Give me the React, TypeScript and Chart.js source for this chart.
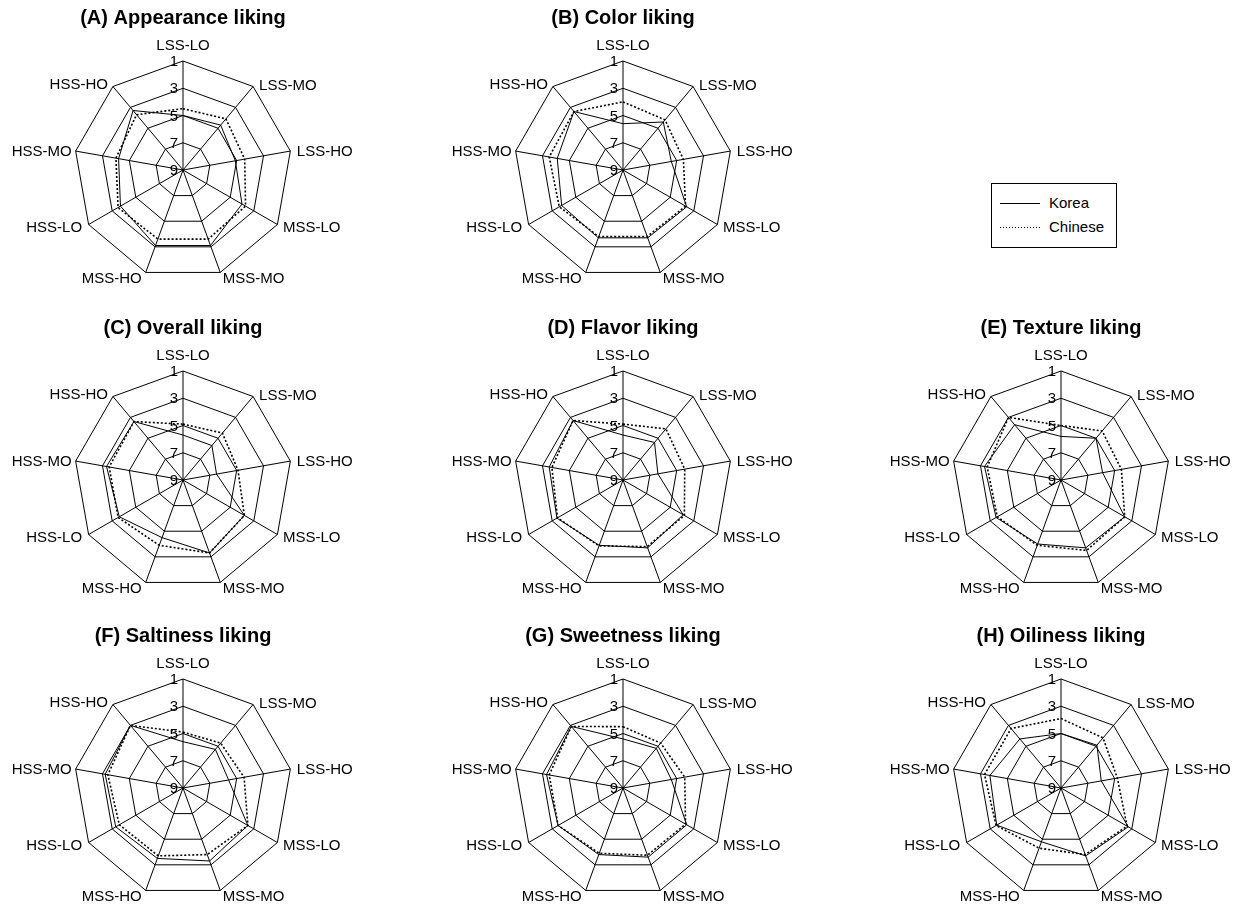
import React, { useEffect, useRef } from "react";
import { Chart, registerables } from "chart.js";

Chart.register(...registerables);

// Sample codes on the radar axes, clockwise from the top
const attributes = ["LSS-LO", "LSS-MO", "LSS-HO", "MSS-LO", "MSS-MO", "MSS-HO", "HSS-LO", "HSS-MO", "HSS-HO"];
const scaleTicks = [1, 3, 5, 7, 9];
const seriesNames = ["Korea", "Chinese"];

// Mean liking scores (1 = most liked, drawn at the rim; 9 at the centre)
const appearanceKorea = [5.0, 4.7, 5.1, 4.0, 3.1, 3.1, 3.7, 4.2, 3.3];
const appearanceChinese = [4.5, 4.1, 4.4, 3.7, 3.6, 3.6, 3.5, 4.0, 3.7];
const colorKorea = [5.6, 4.4, 5.4, 3.6, 3.7, 3.7, 3.8, 4.1, 3.4];
const colorChinese = [4.0, 4.2, 4.5, 3.7, 3.8, 3.8, 3.6, 3.5, 3.4];
const overallKorea = [5.7, 5.7, 6.5, 3.8, 3.3, 4.5, 3.6, 3.3, 3.4];
const overallChinese = [4.9, 4.5, 4.9, 3.8, 3.3, 3.9, 3.5, 3.5, 3.4];
const flavorKorea = [5.7, 5.4, 6.4, 3.9, 3.7, 3.9, 3.4, 3.5, 3.3];
const flavorChinese = [4.9, 4.1, 4.4, 3.8, 3.8, 3.85, 3.45, 3.7, 3.3];
const textureKorea = [5.8, 5.0, 5.9, 3.6, 3.7, 4.0, 3.5, 3.3, 3.7];
const textureChinese = [5.0, 4.3, 4.5, 3.6, 3.5, 3.9, 3.6, 3.5, 3.0];
const saltinessKorea = [5.6, 5.3, 5.6, 3.5, 3.3, 3.5, 3.3, 3.2, 3.0];
const saltinessChinese = [4.9, 4.7, 4.45, 3.5, 3.8, 3.7, 3.6, 3.4, 3.0];
const sweetnessKorea = [5.4, 5.2, 5.4, 3.6, 3.6, 3.8, 3.5, 3.3, 3.1];
const sweetnessChinese = [4.5, 4.7, 4.4, 3.7, 3.75, 3.9, 3.5, 3.5, 3.1];
const oilinessKorea = [5.0, 4.9, 6.0, 3.3, 3.7, 4.8, 3.55, 3.7, 4.3];
const oilinessChinese = [3.9, 4.2, 4.8, 3.4, 3.8, 4.3, 3.5, 3.3, 3.3];

const panelTitles = [
  "(A) Appearance liking",
  "(B) Color liking",
  "(C) Overall liking",
  "(D) Flavor liking",
  "(E) Texture liking",
  "(F) Saltiness liking",
  "(G) Sweetness liking",
  "(H) Oiliness liking",
];
const panelKorea = [appearanceKorea, colorKorea, overallKorea, flavorKorea, textureKorea, saltinessKorea, sweetnessKorea, oilinessKorea];
const panelChinese = [appearanceChinese, colorChinese, overallChinese, flavorChinese, textureChinese, saltinessChinese, sweetnessChinese, oilinessChinese];

// Grid cell (column, row) of each panel; the legend sits in column 2 of row 0
const panelCells = [[0, 0], [1, 0], [0, 1], [1, 1], [2, 1], [0, 2], [1, 2], [2, 2]];

const FONT = '"Liberation Sans", Arial, Helvetica, sans-serif';
const COL_X = [183, 623, 1061];
const ROW_Y = [170, 480, 788];
const CANVAS_W = 420;
const CANVAS_H = 282;
const CENTER_X = 210;
const CENTER_Y = 163;
const RADIUS = 109;

// Label nudges around each outer vertex: [dx, dy]
const labelNudge = [
  [0, -11], [6, -1], [6.5, 1], [5.5, 3.5], [2.5, 6], [-4, 6], [-6.5, 3.5], [-4, 1], [-5, -1.5],
];

const radarText = {
  id: "radarText",
  afterDraw(chart: any, _args: any, opts: any) {
    const scale = chart.scales.r;
    const ctx = chart.ctx as CanvasRenderingContext2D;
    ctx.save();
    ctx.fillStyle = "#000";

    ctx.font = `bold 20px ${FONT}`;
    ctx.textAlign = "center";
    ctx.textBaseline = "alphabetic";
    ctx.fillText(opts.title, scale.xCenter, scale.yCenter - 146);

    ctx.font = `15px ${FONT}`;
    ctx.textAlign = "right";
    ctx.textBaseline = "middle";
    scaleTicks.forEach((v) => {
      const d = scale.getDistanceFromCenterForValue(v);
      ctx.fillText(String(v), scale.xCenter - 5, scale.yCenter - d + 1);
    });

    attributes.forEach((label, i) => {
      const p = scale.getPointPosition(i, scale.drawingArea);
      const [dx, dy] = labelNudge[i];
      if (i === 0) {
        ctx.textAlign = "center";
        ctx.textBaseline = "alphabetic";
      } else {
        ctx.textAlign = i <= 4 ? "left" : "right";
        ctx.textBaseline = "middle";
      }
      ctx.fillText(label, p.x + dx, p.y + dy);
    });
    ctx.restore();
  },
};

function RadarPanel({ index }: { index: number }) {
  const ref = useRef<HTMLCanvasElement>(null);
  useEffect(() => {
    if (!ref.current) return;
    const chart = new Chart(ref.current, {
      type: "radar",
      data: {
        labels: attributes,
        datasets: [
          {
            label: seriesNames[0],
            data: panelKorea[index],
            borderColor: "#000",
            borderWidth: 1,
            fill: false,
            pointRadius: 0,
          },
          {
            label: seriesNames[1],
            data: panelChinese[index],
            borderColor: "#000",
            borderWidth: 1.6,
            borderDash: [2, 2],
            fill: false,
            pointRadius: 0,
          },
        ],
      },
      options: {
        animation: false,
        responsive: false,
        devicePixelRatio: 1,
        events: [],
        layout: {
          padding: {
            left: CENTER_X - RADIUS,
            right: CANVAS_W - CENTER_X - RADIUS,
            top: CENTER_Y - RADIUS,
            bottom: CANVAS_H - CENTER_Y - RADIUS,
          },
        },
        elements: { line: { tension: 0 } },
        plugins: {
          legend: { display: false },
          tooltip: { enabled: false },
          radarText: { title: panelTitles[index] },
        } as any,
        scales: {
          r: {
            min: 1,
            max: 9,
            reverse: true,
            ticks: { display: false, stepSize: 2, reverse: true } as any,
            grid: { color: "#000", lineWidth: 1 },
            angleLines: { color: "#000", lineWidth: 1 },
            pointLabels: { display: false },
          },
        },
      },
      plugins: [radarText],
    });
    return () => chart.destroy();
  }, [index]);

  const [c, r] = panelCells[index];
  return (
    <canvas
      ref={ref}
      width={CANVAS_W}
      height={CANVAS_H}
      style={{
        position: "absolute",
        left: COL_X[c] - CENTER_X - 8,
        top: ROW_Y[r] - CENTER_Y - 8,
        width: CANVAS_W,
        height: CANVAS_H,
      }}
    />
  );
}

function Legend() {
  const row = (name: string, dotted: boolean, y: number) => (
    <div key={name}>
      <div
        style={{
          position: "absolute",
          left: 8,
          top: y,
          width: 40,
          height: 1,
          background: dotted
            ? "repeating-linear-gradient(to right, #000 0px, #000 1px, transparent 1px, transparent 3px)"
            : "#000",
        }}
      />
      <div
        style={{
          position: "absolute",
          left: 57,
          top: y - 9,
          height: 18,
          lineHeight: "18px",
          fontFamily: FONT,
          fontSize: 15,
          color: "#000",
          whiteSpace: "nowrap",
        }}
      >
        {name}
      </div>
    </div>
  );
  return (
    <div
      style={{
        position: "absolute",
        left: 991 - 8,
        top: 183 - 8,
        width: 124,
        height: 63,
        border: "1px solid #000",
        background: "#fff",
      }}
    >
      {row(seriesNames[0], false, 19)}
      {row(seriesNames[1], true, 43)}
    </div>
  );
}

export default function App() {
  return (
    <div style={{ position: "relative", width: 1223, height: 893, background: "#fff" }}>
      {panelTitles.map((_, i) => (
        <RadarPanel key={i} index={i} />
      ))}
      <Legend />
    </div>
  );
}
